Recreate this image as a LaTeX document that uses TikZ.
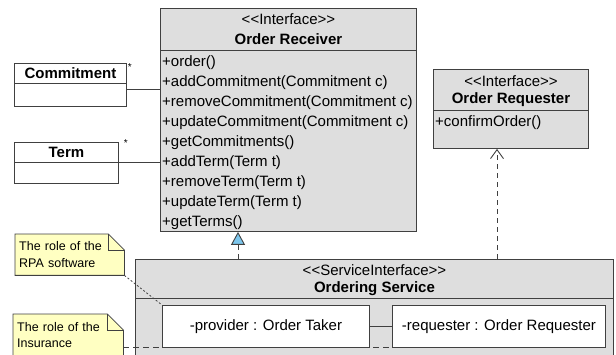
\documentclass[tikz,border=0pt]{standalone}
\usepackage{fontspec}
\setmainfont{Liberation Sans}[Ligatures=TeXOff]
\usepackage{xcolor}
\usepackage{tikz}
\usetikzlibrary{arrows.meta, positioning, calc}
\definecolor{classbg}{HTML}{DEDEDE}
\definecolor{notebg}{HTML}{FFFFC2}
\definecolor{linegray}{HTML}{404040}
\definecolor{realblue}{HTML}{7CC6EC}

\begin{document}
\begin{tikzpicture}[
    x=1pt, y=-1pt,
    font=\fontsize{15}{18}\selectfont,
    classbox/.style={draw=linegray, fill=classbg, line width=0.9pt, anchor=north west, inner sep=0pt},
    partbox/.style={draw=linegray, fill=white, line width=0.9pt, anchor=north west, inner sep=0pt},
    stereo/.style={inner sep=0pt},
    cname/.style={inner sep=0pt, font=\fontsize{15}{18}\selectfont\bfseries},
    member/.style={anchor=west, inner sep=0pt, text height=11pt, text depth=3pt},
    mult/.style={inner sep=0pt, font=\fontsize{10}{10}\selectfont},
    divider/.style={draw=linegray, line width=0.9pt},
    assoc/.style={draw=linegray, line width=0.9pt},
    realizeedge/.style={draw=linegray, line width=0.9pt, dash pattern=on 5pt off 4pt,
      -{Triangle[length=13pt, width=14pt, fill=realblue]}},
    dependedge/.style={draw=linegray, line width=0.9pt, dash pattern=on 5pt off 4pt,
      -{Straight Barb[length=9pt, width=13pt]}},
    note/.style={fill=notebg, anchor=north west, inner xsep=4pt, inner ysep=0pt, align=left,
      font=\fontsize{12.5}{16.5}\selectfont},
    noteline/.style={draw=linegray, line width=0.8pt},
    notelink/.style={draw=linegray, line width=0.8pt, dash pattern=on 2pt off 2pt},
    notelinkb/.style={draw=linegray, line width=0.8pt, dash pattern=on 6pt off 4pt}
  ]
  \clip (0,0) rectangle (616,355);

  % Order Receiver
  \node[classbox, minimum width=256pt, minimum height=223pt] (OR) at (160,8) {};
  \node[stereo] (ORst) at ($(OR.north)+(0,11)$) {<<Interface>>};
  \node[cname] (ORnm) at ($(OR.north)+(0,31)$) {Order Receiver};
  \draw[divider] ($(OR.north west)+(0,42)$) -- ($(OR.north east)+(0,42)$);
  \node[member] (m1) at ($(OR.north west)+(2,55)$) {+order()};
  \node[member] (m2) at ($(m1.west)+(0,19.9)$) {+addCommitment(Commitment c)};
  \node[member] (m3) at ($(m2.west)+(0,19.9)$) {+removeCommitment(Commitment c)};
  \node[member] (m4) at ($(m3.west)+(0,19.9)$) {+updateCommitment(Commitment c)};
  \node[member] (m5) at ($(m4.west)+(0,19.9)$) {+getCommitments()};
  \node[member] (m6) at ($(m5.west)+(0,19.9)$) {+addTerm(Term t)};
  \node[member] (m7) at ($(m6.west)+(0,19.9)$) {+removeTerm(Term t)};
  \node[member] (m8) at ($(m7.west)+(0,19.9)$) {+updateTerm(Term t)};
  \node[member] (m9) at ($(m8.west)+(0,19.9)$) {+getTerms()};

  % Order Requester
  \node[classbox, minimum width=155pt, minimum height=79pt] (OQ) at (433,69) {};
  \node[stereo] (OQst) at ($(OQ.north)+(0,12)$) {<<Interface>>};
  \node[cname] (OQnm) at ($(OQ.north)+(0,31)$) {Order Requester};
  \draw[divider] ($(OQ.north west)+(0,41)$) -- ($(OQ.north east)+(0,41)$);
  \node[member] (q1) at ($(OQ.north west)+(2,54)$) {+confirmOrder()};

  % Commitment and Term
  \node[partbox, minimum width=112pt, minimum height=43pt] (COM) at (14,63) {};
  \draw[divider] ($(COM.north west)+(0,20)$) -- ($(COM.north east)+(0,20)$);
  \node[cname] (COMnm) at ($(COM.north)+(0,10)$) {Commitment};
  \node[mult] (COMst) at ($(COM.north east)+(3,4)$) {*};

  \node[partbox, minimum width=104pt, minimum height=41pt] (TERM) at (14,142) {};
  \draw[divider] ($(TERM.north west)+(0,20)$) -- ($(TERM.north east)+(0,20)$);
  \node[cname] (TERMnm) at ($(TERM.north)+(0,10)$) {Term};
  \node[mult] (TERMst) at ($(TERM.north east)+(7,1)$) {*};

  \coordinate (ca) at ($(COM.north east)+(0,26)$);
  \draw[assoc] (ca) -- (ca -| OR.west);
  \coordinate (ta) at ($(TERM.north east)+(0,20)$);
  \draw[assoc] (ta) -- (ta -| OR.west);

  % Ordering Service
  \node[classbox, minimum width=478pt, minimum height=110pt] (SVC) at (135,259) {};
  \node[stereo] (SVCst) at ($(SVC.north)+(0,11)$) {<<ServiceInterface>>};
  \node[cname] (SVCnm) at ($(SVC.north)+(0,30)$) {Ordering Service};
  \draw[divider] ($(SVC.north west)+(0,39)$) -- ($(SVC.north east)+(0,39)$);
  \node[partbox, minimum width=207pt, minimum height=42pt] (PROV) at (162,305) {-provider : Order Taker};
  \node[partbox, minimum width=213pt, minimum height=42pt] (REQR) at (392,305) {-requester : Order Requester};
  \draw[assoc] (PROV) -- (REQR);

  \coordinate (rf) at ($(SVC.north west)+(103,0)$);
  \draw[realizeedge] (rf) -- (rf |- OR.south);
  \coordinate (df) at ($(SVC.north west)+(362,0)$);
  \draw[dependedge] (df) -- (df |- OQ.south);

  % notes
  \node[note, minimum width=109pt, minimum height=41pt, text width=101pt] (N1) at (15,234)
    {The role of the\\RPA software};
  \fill[white] ($(N1.north east)+(-16,0)$) -- (N1.north east) -- ($(N1.north east)+(0,16)$) -- cycle;
  \draw[noteline] (N1.south west) -- (N1.north west) -- ($(N1.north east)+(-16,0)$)
    -- ($(N1.north east)+(0,16)$) -- (N1.south east) -- cycle;
  \draw[noteline] ($(N1.north east)+(-16,0)$) |- ($(N1.north east)+(0,16)$);

  \node[note, minimum width=110pt, minimum height=42pt, text width=102pt] (N2) at (13,314)
    {The role of the\\Insurance};
  \fill[white] ($(N2.north east)+(-16,0)$) -- (N2.north east) -- ($(N2.north east)+(0,16)$) -- cycle;
  \draw[noteline] (N2.south west) -- (N2.north west) -- ($(N2.north east)+(-16,0)$)
    -- ($(N2.north east)+(0,16)$) -- (N2.south east) -- cycle;
  \draw[noteline] ($(N2.north east)+(-16,0)$) |- ($(N2.north east)+(0,16)$);

  \draw[notelink] (N1.south east) -- (PROV.north west);
  \draw[notelinkb] (N2.east |- PROV.south) -- (REQR.south west);
\end{tikzpicture}
\end{document}
